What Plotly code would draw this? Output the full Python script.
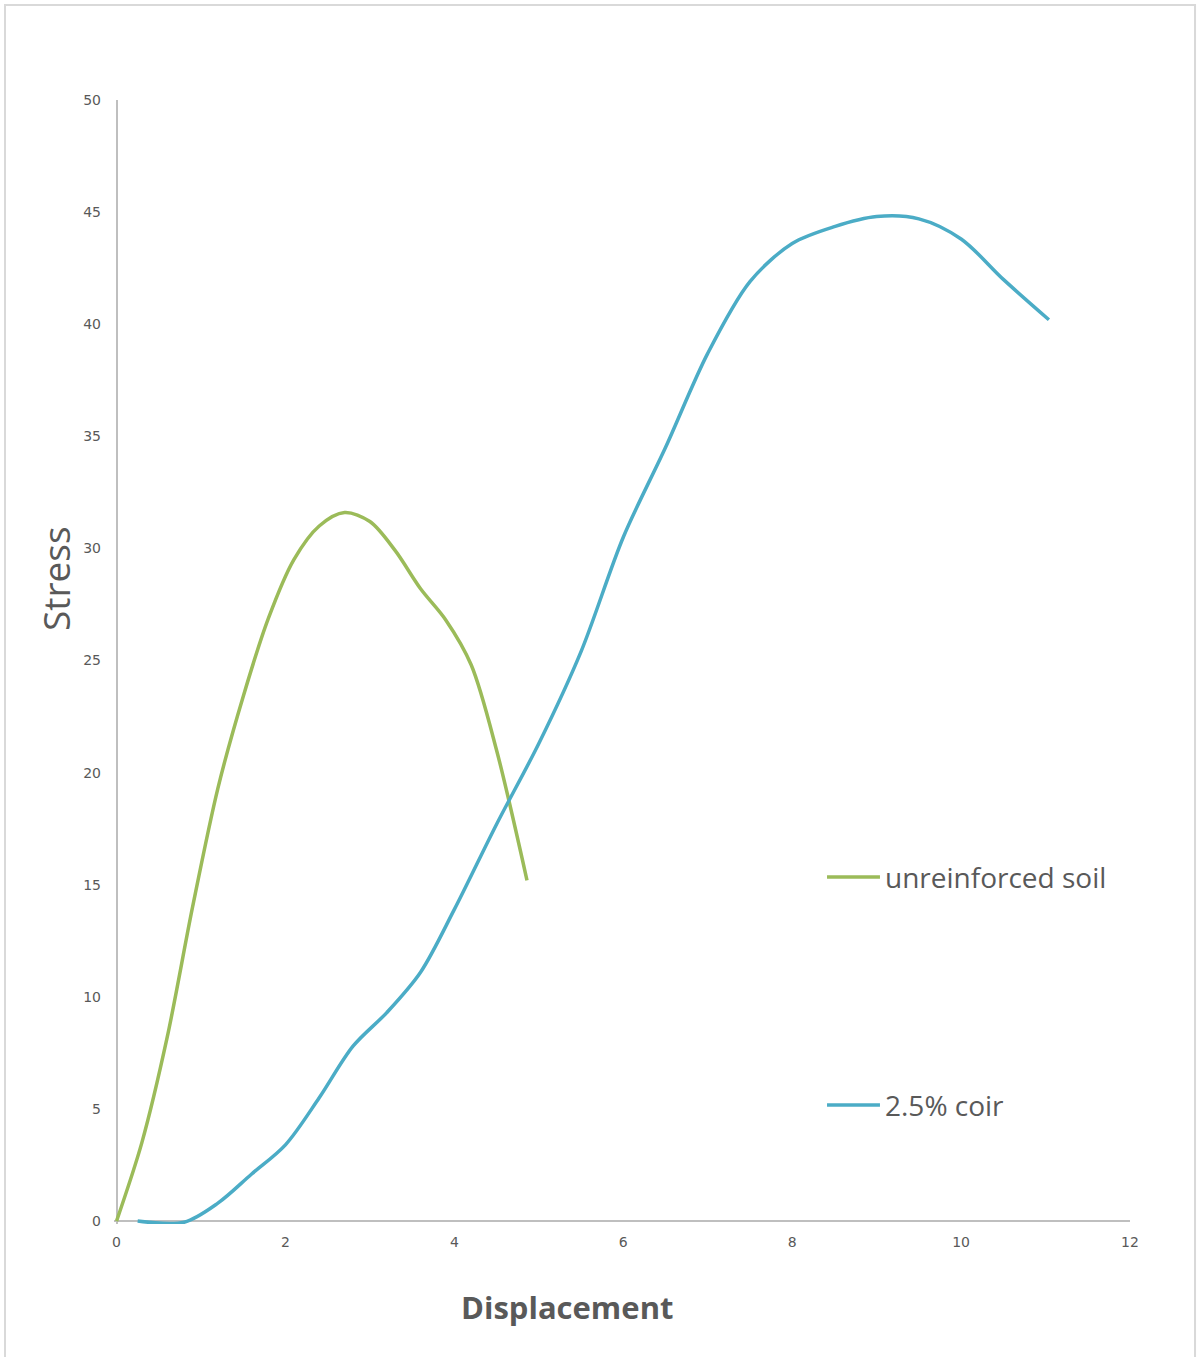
import plotly.graph_objects as go

# Stress-displacement readings
unreinforced_disp = [0, 0.3, 0.6, 0.9, 1.2, 1.5, 1.8, 2.1, 2.4, 2.7, 3.0, 3.3, 3.6, 3.9, 4.2, 4.5, 4.86]
unreinforced_stress = [0, 3.5, 8.2, 14.0, 19.3, 23.4, 26.9, 29.5, 31.0, 31.6, 31.2, 29.9, 28.2, 26.8, 24.8, 21.0, 15.2]

coir_disp = [0.25, 0.8, 1.2, 1.6, 2.0, 2.4, 2.8, 3.2, 3.6, 4.0, 4.5, 5.0, 5.5, 6.0, 6.5, 7.0, 7.5, 8.0,
             8.5, 9.0, 9.5, 10.0, 10.5, 11.04]
coir_stress = [0, -0.05, 0.8, 2.1, 3.4, 5.5, 7.8, 9.3, 11.1, 13.9, 17.7, 21.3, 25.4, 30.5, 34.5, 38.7,
               41.9, 43.6, 44.35, 44.8, 44.7, 43.8, 42.0, 40.2]

series_names = ["unreinforced soil", "2.5% coir"]
series_colors = ["#9BBB59", "#4BACC6"]

x_ticks = [0, 2, 4, 6, 8, 10, 12]
y_ticks = [0, 5, 10, 15, 20, 25, 30, 35, 40, 45, 50]

TEXT = "#595959"
AXIS = "#BFBFBF"

fig = go.Figure()
for xs, ys, name, color in zip(
    [unreinforced_disp, coir_disp],
    [unreinforced_stress, coir_stress],
    series_names,
    series_colors,
):
    fig.add_trace(go.Scatter(
        x=xs, y=ys, name=name, mode="lines",
        line=dict(color=color, width=3.5, shape="spline", smoothing=0.9),
        showlegend=False,
    ))

fig.update_layout(
    width=1198, height=1357,
    margin=dict(l=114, r=68, t=100, b=133),
    paper_bgcolor="white", plot_bgcolor="white",
    font=dict(family="DejaVu Sans", color=TEXT),
    xaxis=dict(
        range=[-0.03, 12], tickvals=x_ticks, showgrid=False, showline=False,
        zeroline=True, zerolinecolor=AXIS, zerolinewidth=1.5,
        tickfont=dict(family="DejaVu Sans", size=14, color=TEXT),
        ticks="", ticklabelstandoff=8,
    ),
    yaxis=dict(
        range=[-0.13, 50], tickvals=y_ticks, showgrid=False, showline=False,
        zeroline=True, zerolinecolor=AXIS, zerolinewidth=1.5,
        tickfont=dict(family="DejaVu Sans", size=14, color=TEXT),
        ticks="", ticklabelstandoff=12,
    ),
)

# Axis titles
fig.add_annotation(
    text="Stress", xref="paper", yref="paper", x=-0.0581, y=0.5747,
    textangle=-90, showarrow=False, xanchor="center", yanchor="middle",
    font=dict(family="Open Sans", size=37, color=TEXT),
)
fig.add_annotation(
    text="<b>Displacement</b>", xref="paper", yref="paper", x=0.4459, y=-0.0738,
    showarrow=False, xanchor="center", yanchor="middle",
    font=dict(family="Open Sans", size=31, color=TEXT),
)

# Legend entries
legend_y = [0.3087, 0.1059]
for name, color, ly in zip(series_names, series_colors, legend_y):
    fig.add_shape(type="line", xref="paper", yref="paper",
                  x0=0.7018, x1=0.7539, y0=ly, y1=ly,
                  line=dict(color=color, width=3.5))
    fig.add_annotation(
        text=name, xref="paper", yref="paper", x=0.7568, y=ly,
        showarrow=False, xanchor="left", yanchor="middle",
        font=dict(family="Open Sans", size=28, color=TEXT),
    )

# Chart frame
fig.add_shape(type="rect", xref="paper", yref="paper",
              x0=-0.1073, x1=1.064, y0=-0.13, y1=1.0845,
              line=dict(color="#D9D9D9", width=2), layer="below")

fig.write_html("out.html")
